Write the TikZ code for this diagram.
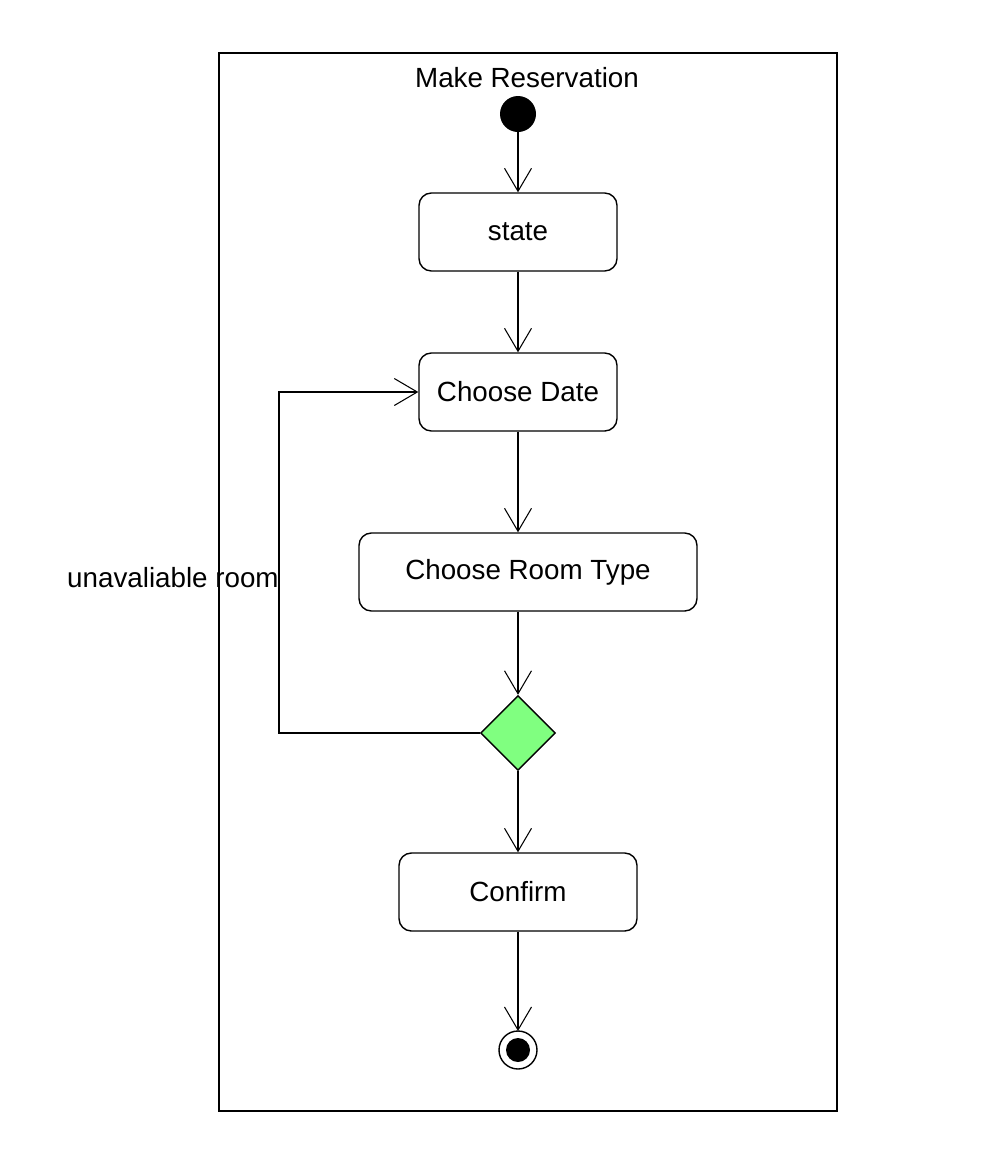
\documentclass[tikz,border=0pt]{standalone}
\usepackage{fontspec}
\setmainfont{Liberation Sans}
\usepackage{tikz}
\usetikzlibrary{positioning, arrows.meta, shapes.geometric}
\definecolor{decgreen}{RGB}{128,255,128}

\begin{document}
\begin{tikzpicture}[x=0.02cm, y=-0.02cm,
    every node/.style={font=\fontsize{15.8}{19}\selectfont},
    activity/.style={draw, line width=0.8pt, rounded corners=7pt, minimum height=1.56cm, inner sep=0pt, fill=white},
    flow/.style={line width=0.8pt, -{Straight Barb[length=0.46cm, width=0.54cm, line width=0.6pt]}}]
    \useasboundingbox (0,0) rectangle (994,1170);
    \draw[line width=0.8pt] (219,53) rectangle (837,1111);
    \node (title) at (527,78) {Make Reservation};
    \fill (518,114) circle (18);
    \coordinate (init) at (518,132);
    \node[activity, minimum width=3.96cm] (state) at (518,232) {state};
    \node[activity, minimum width=3.96cm] (date) at (518,392) {Choose Date};
    \node[activity, minimum width=6.76cm] (room) at (528,572) {Choose Room Type};
    \node[draw, line width=0.8pt, diamond, aspect=1, minimum size=1.5cm, inner sep=0pt, fill=decgreen] (dec) at (518,733) {};
    \node[activity, minimum width=4.76cm] (confirm) at (518,892) {Confirm};
    \draw[line width=0.8pt] (518,1050) circle (19);
    \fill (518,1050) circle (12);
    \coordinate (final) at (518,1031);
    \draw[flow] (init) -- (state.north);
    \draw[flow] (state) -- (date);
    \draw[flow] (date.south) -- (date.south |- room.north);
    \draw[flow] (room.south -| dec.north) -- (dec.north);
    \draw[flow] (dec.south) -- (confirm.north);
    \draw[flow] (confirm.south) -- (final);
    \draw[flow] (dec.west) -- (279,733) -- (279,392) -- (date.west);
    \node[anchor=east, inner sep=0pt] (unav) at (279,578) {unavaliable room};
\end{tikzpicture}
\end{document}
